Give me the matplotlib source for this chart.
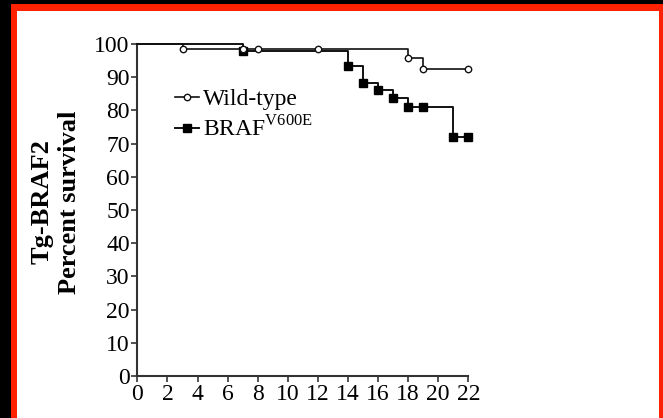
import matplotlib
matplotlib.use("Agg")
import matplotlib.pyplot as plt
from matplotlib.patches import Rectangle

# Data
wt_time = [0, 3, 7, 8, 12, 18, 19, 22]
wt_surv = [100, 98.4, 98.4, 98.4, 98.4, 95.7, 92.5, 92.5]
braf_time = [0, 7, 14, 15, 16, 17, 18, 19, 21, 22]
braf_surv = [100, 98.0, 93.3, 88.3, 86.0, 83.6, 81.1, 81.1, 72.1, 72.1]
xticks = list(range(0, 23, 2))
yticks = list(range(0, 101, 10))
labels = ["Wild-type", r"BRAF$^{\mathrm{V600E}}$"]

plt.rcParams['font.family'] = ['Liberation Serif', 'DejaVu Serif']
plt.rcParams['mathtext.fontset'] = 'custom'
plt.rcParams['mathtext.rm'] = 'Liberation Serif'

W, H = 663, 418
fig = plt.figure(figsize=(W/100, H/100), dpi=100, facecolor='black')
red = '#ff2200'
fig.patches.append(Rectangle((11/W, 0), 1, 1 - 4/H, transform=fig.transFigure,
                             facecolor=red, edgecolor='none', zorder=-10))
fig.patches.append(Rectangle((17/W, 0), (659-17)/W, 1 - 11/H, transform=fig.transFigure,
                             facecolor='white', edgecolor='none', zorder=-9))

ax = fig.add_axes([137.4/W, (H-376)/H, (468.3-137.4)/W, 332/H])
ax.set_facecolor('none')

lc = '#111111'
ms_s, ms_o = 5.2, 4.6
ax.step(wt_time, wt_surv, where='post', color=lc, lw=1.2, clip_on=False, zorder=3)
ax.step(braf_time, braf_surv, where='post', color=lc, lw=1.4, clip_on=False, zorder=3)
ax.plot(braf_time[1:], braf_surv[1:], ls='none', marker='s', ms=ms_s, mfc='black',
        mec='black', clip_on=False, zorder=4)
ax.plot(wt_time[1:], wt_surv[1:], ls='none', marker='o', ms=ms_o, mfc='white',
        mec=lc, mew=1.0, clip_on=False, zorder=5)

# legend proxies
h1, = ax.plot([], [], color=lc, lw=1.2, marker='o', ms=ms_o, mfc='white', mec=lc, mew=1.0)
h2, = ax.plot([], [], color=lc, lw=1.4, marker='s', ms=ms_s, mfc='black', mec='black')
leg = ax.legend([h1, h2], labels, loc='upper left', bbox_to_anchor=(0.115, 0.865),
                frameon=False, fontsize=17, handlelength=1.0, handletextpad=0.15,
                borderpad=0, borderaxespad=0, labelspacing=0.25, markerscale=1)

ax.set_xlim(0, 22)
ax.set_ylim(0, 100)
ax.set_xticks(xticks)
ax.set_yticks(yticks)
ax.tick_params(axis='both', labelsize=17, length=4, width=1.2, color='#333333', pad=1.5,
               direction='out')
for s in ['top', 'right']:
    ax.spines[s].set_visible(False)
for s in ['left', 'bottom']:
    ax.spines[s].set_linewidth(1.5)
    ax.spines[s].set_color('#333333')

fig.text(42/W, 1 - 202/H, "Tg-BRAF2", rotation=90, ha='center', va='center',
         fontsize=19, fontweight='bold')
fig.text(70/W, 1 - 202/H, "Percent survival", rotation=90, ha='center', va='center',
         fontsize=19, fontweight='bold')

fig.savefig('out.png', dpi=100, facecolor=fig.get_facecolor())
